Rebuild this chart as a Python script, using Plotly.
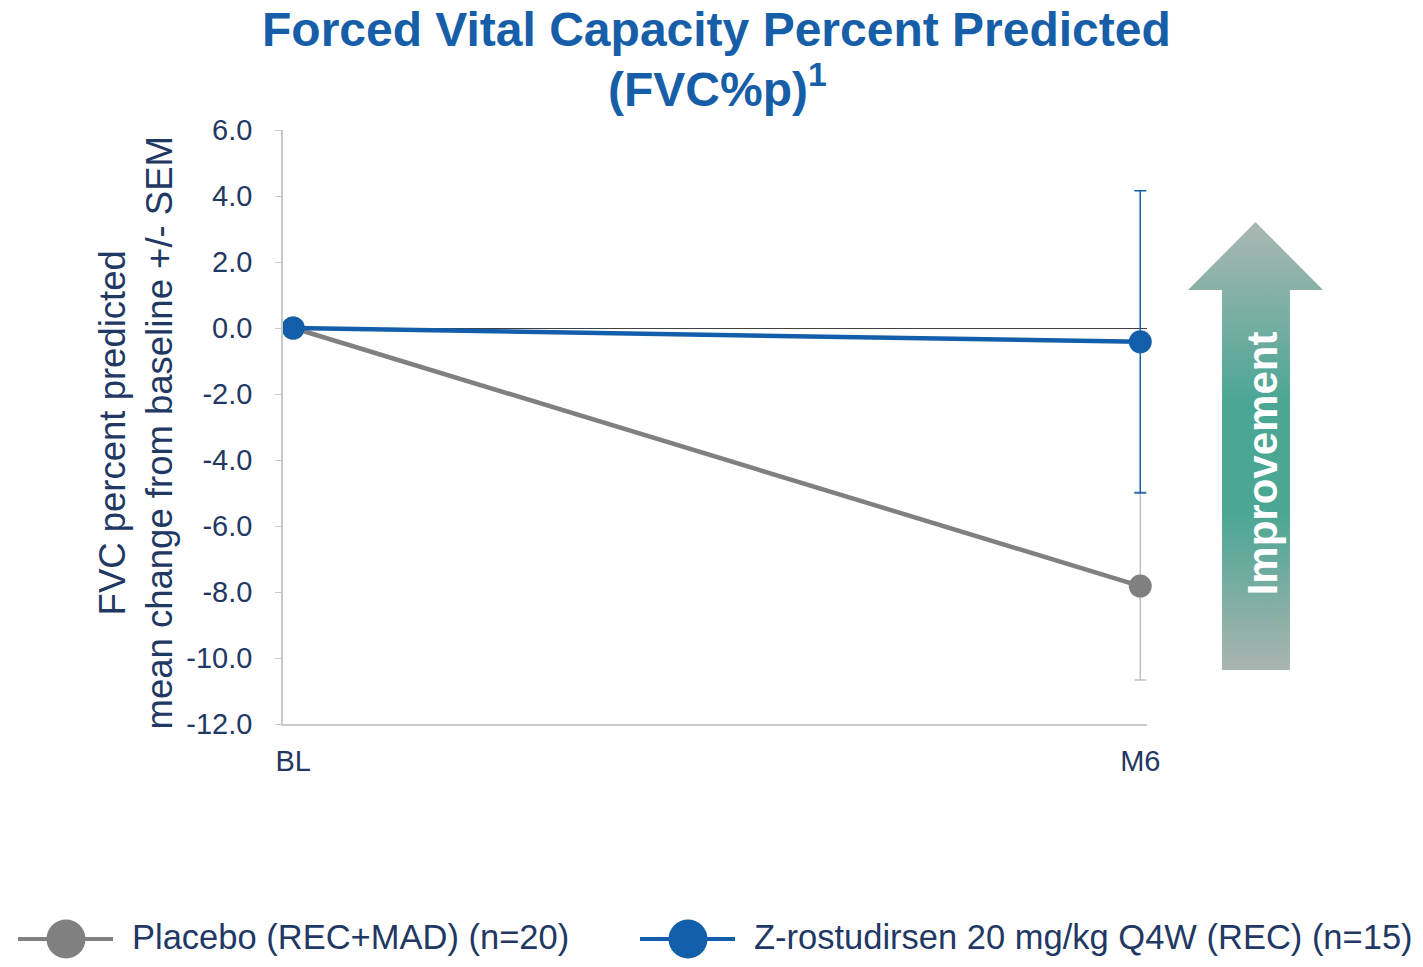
import plotly.graph_objects as go

# data
visits = ["BL", "M6"]
placebo_mean = [0.0, -7.82]
placebo_sem = [0.0, 2.85]
zros_mean = [0.0, -0.42]
zros_sem = [0.0, 4.58]
y_ticks = [6, 4, 2, 0, -2, -4, -6, -8, -10, -12]
y_ticktext = [f"{v:.1f}" for v in y_ticks]

series_names = ["Placebo (REC+MAD) (n=20)", "Z-rostudirsen 20 mg/kg Q4W (REC) (n=15)"]

GREY = "#808080"
BLUE = "#135eaa"
NAVY = "#1f3864"
FONT = "Liberation Sans, Arial, sans-serif"

fig = go.Figure()

fig.add_trace(go.Scatter(
    x=visits, y=placebo_mean, mode="lines+markers", name=series_names[0],
    line=dict(color=GREY, width=4.5),
    marker=dict(color=GREY, size=23),
    error_y=dict(type="data", array=placebo_sem, visible=True,
                 color="#c0c0c0", thickness=1.5, width=6),
    cliponaxis=False, showlegend=False,
))
fig.add_trace(go.Scatter(
    x=visits, y=zros_mean, mode="lines+markers", name=series_names[1],
    line=dict(color=BLUE, width=4.5),
    marker=dict(color=BLUE, size=23),
    error_y=dict(type="data", array=zros_sem, visible=True,
                 color=BLUE, thickness=1.5, width=6),
    cliponaxis=False, showlegend=False,
))

# "Improvement" arrow on its own hidden axes
arrow_x = [0.252, 0.755, 0.755, 1.0, 0.5, 0.0, 0.252, 0.252]
arrow_y = [0.0, 0.0, 0.848, 0.848, 1.0, 0.848, 0.848, 0.0]
fig.add_trace(go.Scatter(
    x=arrow_x, y=arrow_y, xaxis="x2", yaxis="y2", mode="lines",
    fill="toself", line=dict(width=0, color="rgba(0,0,0,0)"),
    fillgradient=dict(type="vertical",
                      colorscale=[[0, "#aab4b1"], [0.35, "#4ba694"],
                                  [0.6, "#4ba694"], [1, "#abb7b3"]]),
    hoverinfo="skip", showlegend=False,
))
fig.add_annotation(x=0.55, y=0.462, xref="x2", yref="y2", text="<b>Improvement</b>",
                   textangle=-90, showarrow=False,
                   font=dict(family=FONT, size=42, color="white"))

# the page has an 8px body margin, so the figure is 16px smaller than the window
fig.update_layout(
    width=1407, height=951,
    margin=dict(l=275, r=82, t=122, b=235),
    plot_bgcolor="white", paper_bgcolor="white",
    font=dict(family=FONT, color=NAVY),
    xaxis=dict(domain=[0, 0.8229], type="category", range=[-0.012, 1.008],
               showline=True, linecolor="#c8c8c8", linewidth=1.5,
               showgrid=False, zeroline=False, ticks="",
               tickfont=dict(size=29, color=NAVY), ticklabelstandoff=10),
    yaxis=dict(range=[-12, 6], tickvals=y_ticks, ticktext=y_ticktext,
               showline=True, linecolor="#c8c8c8", linewidth=1.5,
               ticks="outside", ticklen=6, tickcolor="#c8c8c8",
               showgrid=False, zeroline=True, zerolinecolor="#404040", zerolinewidth=1,
               tickfont=dict(size=29, color=NAVY), ticklabelstandoff=17),
    xaxis2=dict(domain=[0.8619, 0.9905], range=[0, 1], visible=False, fixedrange=True,
                anchor="y2"),
    yaxis2=dict(domain=[0.0909, 0.8451], range=[0, 1], visible=False, fixedrange=True,
                anchor="x2"),
    showlegend=False,
)


# reference pixel -> paper coordinates
def px_x(p):
    return (p - 283) / 1050


def px_y(p):
    return (724 - p) / 594


# title, two lines
fig.add_annotation(x=px_x(716), y=px_y(29), xref="paper", yref="paper",
                   text="<b>Forced Vital Capacity Percent Predicted</b>",
                   showarrow=False, xanchor="center", yanchor="middle",
                   font=dict(family=FONT, size=48, color="#175ea8"))
fig.add_annotation(x=px_x(717), y=px_y(86), xref="paper", yref="paper",
                   text="<b>(FVC%p)<sup>1</sup></b>",
                   showarrow=False, xanchor="center", yanchor="middle",
                   font=dict(family=FONT, size=48, color="#175ea8"))

# y axis title as a rotated annotation
fig.add_annotation(x=px_x(135.5), y=px_y(433), xref="paper", yref="paper",
                   text="FVC percent predicted<br>mean change from baseline +/- SEM",
                   textangle=-90, showarrow=False, xanchor="center", yanchor="middle",
                   font=dict(family=FONT, size=36.5, color=NAVY))

# custom legend below the chart (kept a little higher so it is not cut at the page edge)
leg_y = 939
legend_items = [
    (series_names[0], GREY, 18, 113, 66, 130),
    (series_names[1], BLUE, 640, 735, 688, 752),
]
for label, col, x0, x1, xc, xt in legend_items:
    fig.add_shape(type="line", xref="paper", yref="paper",
                  x0=px_x(x0), x1=px_x(x1), y0=px_y(leg_y), y1=px_y(leg_y),
                  line=dict(color=col, width=4))
    fig.add_shape(type="circle", xref="paper", yref="paper",
                  xsizemode="pixel", ysizemode="pixel",
                  xanchor=px_x(xc), yanchor=px_y(leg_y),
                  x0=-19.5, x1=19.5, y0=-19.5, y1=19.5,
                  fillcolor=col, line=dict(width=0))
    fig.add_annotation(x=px_x(xt), y=px_y(leg_y - 2), xref="paper", yref="paper",
                       text=label, showarrow=False, xanchor="left", yanchor="middle",
                       font=dict(family=FONT, size=34.5, color=NAVY))

fig.write_html("out.html")
